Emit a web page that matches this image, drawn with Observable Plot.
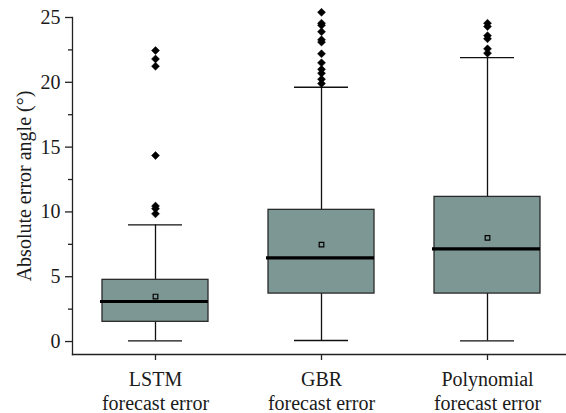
<!DOCTYPE html>
<html>
<head>
<meta charset="utf-8">
<script src="https://cdn.jsdelivr.net/npm/d3@7"></script>
<script src="https://cdn.jsdelivr.net/npm/@observablehq/plot@0.6"></script>
<style>
  html, body { margin: 0; padding: 0; background: #fff; }
  #chart svg, #chart svg text { font-family: "Liberation Serif", "Times New Roman", serif !important; }
</style>
</head>
<body>
<div id="chart"></div>
<script>
const categories = ["LSTM", "GBR", "Polynomial"];
const whiskerLow = [0.05, 0.08, 0.05];
const q1 = [1.52, 3.70, 3.70];
const median = [3.09, 6.46, 7.15];
const mean = [3.47, 7.48, 8.0];
const q3 = [4.76, 10.16, 11.16];
const whiskerHigh = [9.0, 19.62, 21.9];
const outliersLSTM = [22.45, 21.8, 21.24, 14.35, 10.45, 10.25, 9.85];
const outliersGBR = [25.4, 24.56, 24.4, 23.9, 23.28, 23.1, 22.2, 21.5, 21.0, 20.7, 20.24, 19.9];
const outliersPoly = [24.56, 24.3, 23.6, 23.36, 22.58, 22.25];
const majorTicks = [0, 5, 10, 15, 20, 25];
const minorTicks = [2.5, 7.5, 12.5, 17.5, 22.5];

const stats = categories.map((c, i) => ({
  cat: c, lo: whiskerLow[i], q1: q1[i], med: median[i], mean: mean[i], q3: q3[i], hi: whiskerHigh[i]
}));
const outliers = [
  ...outliersLSTM.map(v => ({cat: "LSTM", v})),
  ...outliersGBR.map(v => ({cat: "GBR", v})),
  ...outliersPoly.map(v => ({cat: "Polynomial", v}))
];

const font = "'Liberation Serif', 'Times New Roman', serif";
const boxInset = 30;
const capInset = 56;

const chart = Plot.plot({
  width: 566,
  height: 413,
  marginLeft: 72,
  marginRight: 0,
  marginTop: 17,
  marginBottom: 59,
  style: {fontFamily: font, fontSize: "20px", color: "#1a1a1a", background: "#fff"},
  x: {domain: categories, range: [72, 570], padding: 0},
  y: {domain: [-1, 25]},
  marks: [
    Plot.ruleX(stats, {x: "cat", y1: "lo", y2: "hi", stroke: "#111", strokeWidth: 1.3}),
    Plot.tickY(stats, {x: "cat", y: "lo", stroke: "#111", strokeWidth: 1.3, insetLeft: capInset, insetRight: capInset}),
    Plot.tickY(stats, {x: "cat", y: "hi", stroke: "#111", strokeWidth: 1.3, insetLeft: capInset, insetRight: capInset}),
    Plot.barY(stats, {x: "cat", y1: "q1", y2: "q3", fill: "#7d9794", stroke: "#2a2a2a", strokeWidth: 1.3, insetLeft: boxInset, insetRight: boxInset}),
    Plot.tickY(stats, {x: "cat", y: "med", stroke: "#000", strokeWidth: 3.2, insetLeft: boxInset - 2, insetRight: boxInset}),
    Plot.dot(stats, {x: "cat", y: "mean", symbol: "square", r: 2.6, fill: "none", stroke: "#000", strokeWidth: 1.2}),
    Plot.dot(outliers, {x: "cat", y: "v", symbol: "diamond2", r: 3.6, fill: "#000", stroke: "#000", strokeWidth: 0.5}),
    Plot.frame({anchor: "left", stroke: "#222", strokeWidth: 1.3}),
    Plot.frame({anchor: "bottom", stroke: "#222", strokeWidth: 1.3}),
    Plot.axisY({ticks: minorTicks, tickSize: 4, tickFormat: () => "", label: null, stroke: "#222", strokeWidth: 1.3}),
    Plot.axisY({ticks: majorTicks, tickSize: 7, tickPadding: 5, label: "Absolute error angle (°)", labelAnchor: "center", labelArrow: "none", labelOffset: 56, stroke: "#222", strokeWidth: 1.3, fontSize: 20}),
    Plot.axisX({tickSize: 6, tickPadding: 8, label: null, tickFormat: d => d + "\nforecast error", lineHeight: 1.22, stroke: "#222", strokeWidth: 1.3, fontSize: 20})
  ]
});
document.getElementById("chart").appendChild(chart);
</script>
</body>
</html>
